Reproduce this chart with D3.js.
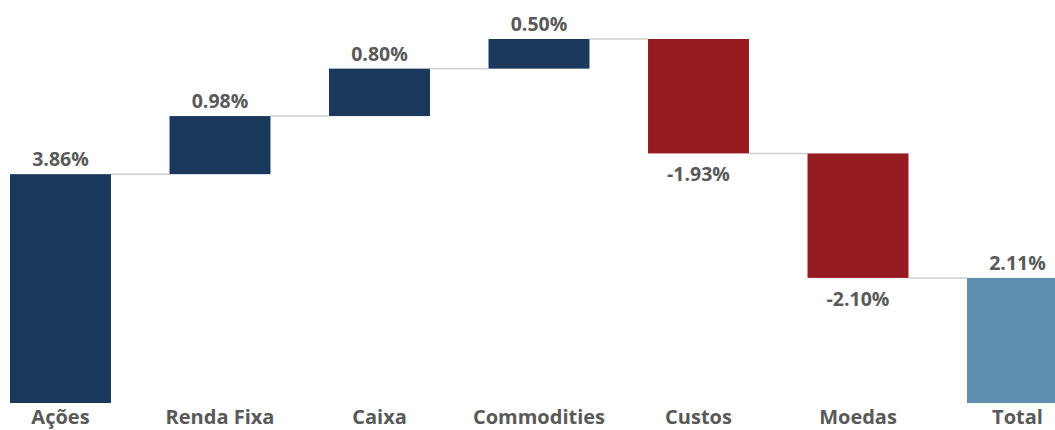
<!DOCTYPE html>
<html><head><meta charset="utf-8">
<script src="https://cdn.jsdelivr.net/npm/d3@7"></script>
<style>body{margin:0;background:#fff}svg{display:block}</style>
</head><body>
<svg id="c" width="1055" height="430"></svg>
<script>
const categories = ["Ações","Renda Fixa","Caixa","Commodities","Custos","Moedas","Total"];
const values = [3.86, 0.98, 0.80, 0.50, -1.93, -2.10, 2.11];
const isTotal = [false,false,false,false,false,false,true];
const valueLabels = ["3.86%","0.98%","0.80%","0.50%","-1.93%","-2.10%","2.11%"];

const colors = {pos:"#1a375c", neg:"#961b20", total:"#5f8fae"};
const svg = d3.select("#c");

let run = 0;
const bars = categories.map((c,i)=>{
  let start, end;
  if (isTotal[i]) { start = 0; end = values[i]; }
  else { start = run; end = run + values[i]; run = end; }
  return {cat:c, v:values[i], start, end, total:isTotal[i], label:valueLabels[i]};
});

const x = d3.scaleBand().domain(categories).range([10, 1068]).paddingInner(0.367).paddingOuter(0);
const y = d3.scaleLinear().domain([0, 6.14]).range([403, 39]);

const conn = svg.append("g");
bars.forEach((b,i)=>{
  if (i === bars.length-1) return;
  const level = b.end;
  conn.append("line")
    .attr("x1", x(b.cat)+x.bandwidth()).attr("x2", x(categories[i+1]))
    .attr("y1", y(level)).attr("y2", y(level))
    .attr("stroke", "#d0d0d0").attr("stroke-width", 1.5);
});

svg.append("g").selectAll("rect").data(bars).join("rect")
  .attr("x", d=>x(d.cat)).attr("width", x.bandwidth())
  .attr("y", d=>y(Math.max(d.start,d.end)))
  .attr("height", d=>Math.abs(y(d.start)-y(d.end)))
  .attr("fill", d=>d.total?colors.total:(d.v>=0?colors.pos:colors.neg));

const font = "'Open Sans', sans-serif";
svg.append("g").selectAll("text").data(bars).join("text")
  .attr("x", d=>x(d.cat)+x.bandwidth()/2)
  .attr("y", d=> d.v>=0 ? y(Math.max(d.start,d.end)) - 8 : y(Math.min(d.start,d.end)) + 28)
  .attr("text-anchor","middle")
  .attr("font-family", font).attr("font-weight","bold").attr("font-size","19.5px")
  .attr("fill","#595959")
  .text(d=>d.label);

const xAxis = d3.axisBottom(x).tickSize(0).tickPadding(0);
const ax = svg.append("g").attr("transform","translate(0,424)").call(xAxis);
ax.select(".domain").remove();
ax.selectAll("text").attr("font-family", font).attr("font-weight","bold")
  .attr("font-size","20px").attr("fill","#595959").attr("y",0).attr("dy","0");
</script>
</body></html>
